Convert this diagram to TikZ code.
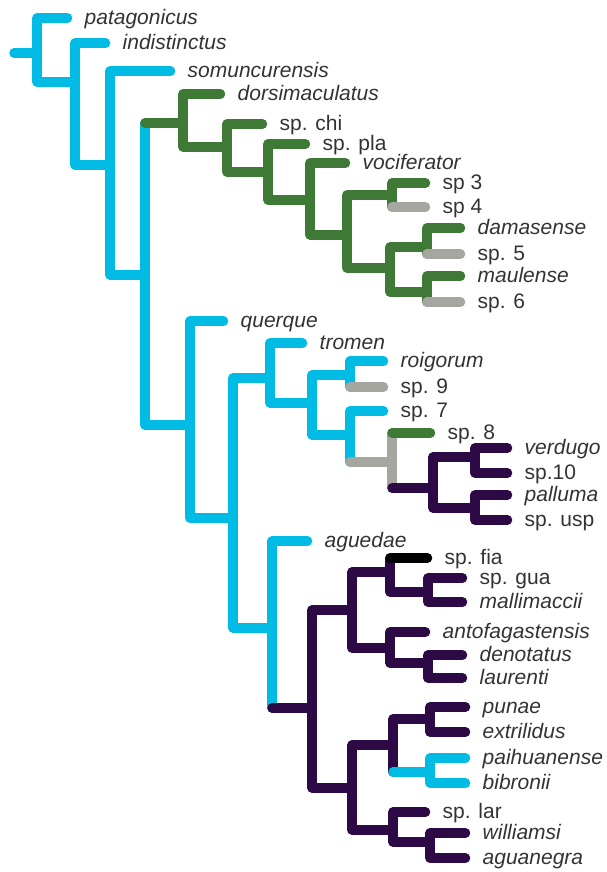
\documentclass[tikz,border=0pt]{standalone}
\usepackage{fontspec}
\setmainfont{Liberation Sans}
\definecolor{cy}{RGB}{0,188,228}
\definecolor{gr}{RGB}{62,122,54}
\definecolor{gy}{RGB}{166,166,160}
\definecolor{pu}{RGB}{45,10,70}
\definecolor{txt}{RGB}{51,51,51}
\tikzset{
  br/.style={line width=9.5pt, line cap=round, line join=round},
  cyb/.style={br, draw=cy},
  grb/.style={br, draw=gr},
  gyb/.style={br, draw=gy},
  pub/.style={br, draw=pu},
  blb/.style={br, draw=black},
  lab/.style={anchor=base west, inner sep=0pt, text=txt, font=\fontsize{21}{21}\selectfont}
}
\newcommand\lf[4]{\coordinate (#1) at (#2,#3); \node[lab] (#1-t) at (#2+17,#3+6.5) {#4};}
\begin{document}
\begin{tikzpicture}[x=1pt,y=-1pt]
\useasboundingbox (0,0) rectangle (606,872);
% leaves
\lf{pat}{67.5}{18}{\textit{patagonicus}}
\lf{ind}{105.5}{43}{\textit{indistinctus}}
\lf{som}{170.5}{71}{\textit{somuncurensis}}
\lf{dor}{220.5}{94}{\textit{dorsimaculatus}}
\lf{chi}{262.5}{124}{sp. chi}
\lf{pla}{305.5}{144}{sp. pla}
\lf{voc}{345.5}{163}{\textit{vociferator}}
\lf{s3}{425.5}{183}{sp 3}
\lf{s4}{425.5}{207}{sp 4}
\lf{dam}{460.5}{228}{\textit{damasense}}
\lf{s5}{460.5}{254}{sp. 5}
\lf{mau}{460.5}{276}{\textit{maulense}}
\lf{s6}{460.5}{302}{sp. 6}
\lf{que}{223.5}{321}{\textit{querque}}
\lf{tro}{302.5}{343}{\textit{tromen}}
\lf{roi}{383.5}{361}{\textit{roigorum}}
\lf{s9}{383.5}{387}{sp. 9}
\lf{s7}{383.5}{411}{sp. 7}
\lf{s8}{430.5}{433}{sp. 8}
\lf{ver}{507.5}{448}{\textit{verdugo}}
\lf{s10}{507.5}{473}{sp.10}
\lf{pal}{507.5}{495}{\textit{palluma}}
\lf{usp}{507.5}{520}{sp. usp}
\lf{agu}{307.5}{541}{\textit{aguedae}}
\lf{fia}{427.5}{558}{sp. fia}
\lf{gua}{462.5}{578}{sp. gua}
\lf{mal}{462.5}{602}{\textit{mallimaccii}}
\lf{ant}{425.5}{632}{\textit{antofagastensis}}
\lf{den}{462.5}{655}{\textit{denotatus}}
\lf{lau}{462.5}{678}{\textit{laurenti}}
\lf{pun}{465.5}{707}{\textit{punae}}
\lf{ext}{465.5}{732}{\textit{extrilidus}}
\lf{pai}{465.5}{758}{\textit{paihuanense}}
\lf{bib}{465.5}{783}{\textit{bibronii}}
\lf{lar}{425.5}{812}{sp. lar}
\lf{wil}{465.5}{833}{\textit{williamsi}}
\lf{agn}{465.5}{858}{\textit{aguanegra}}
% internal nodes
\coordinate (r0) at (14,53);
\coordinate (R) at (37,53);
\coordinate (N2) at (75,82);
\coordinate (N3) at (110,165);
\coordinate (N4) at (145,275);
\coordinate (G1) at (183,123);
\coordinate (G2) at (227,147);
\coordinate (G3) at (268,172);
\coordinate (G4) at (310,200);
\coordinate (G5) at (347,235);
\coordinate (G6) at (392,195);
\coordinate (G7) at (390,268);
\coordinate (G8) at (427,247);
\coordinate (G9) at (427,292);
\coordinate (Q1) at (190,425);
\coordinate (Q2) at (233,518);
\coordinate (Q3) at (270,378);
\coordinate (Q4) at (312,403);
\coordinate (Q5) at (350,375);
\coordinate (Q6) at (350,435);
\coordinate (Q7) at (392,462);
\coordinate (P1) at (433,488);
\coordinate (P2) at (475,457);
\coordinate (P3) at (475,508);
\coordinate (Q8) at (272,628);
\coordinate (A1) at (312,708);
\coordinate (A2) at (352,610);
\coordinate (A3) at (390,572);
\coordinate (A4) at (428,592);
\coordinate (A5) at (390,648);
\coordinate (A5b) at (428,663);
\coordinate (A6) at (352,788);
\coordinate (A7) at (393,745);
\coordinate (A8a) at (430,719);
\coordinate (A8b) at (430,772);
\coordinate (A9) at (393,830);
\coordinate (A10) at (430,842);
% cyan backbone
\draw[cyb] (r0) -- (R);
\draw[cyb] (R) |- (pat);
\draw[cyb] (R) |- (N2);
\draw[cyb] (N2) |- (ind);
\draw[cyb] (N2) |- (N3);
\draw[cyb] (N3) |- (som);
\draw[cyb] (N3) |- (N4);
\draw[cyb] (N4) -- (N4 |- G1);
\draw[cyb] (N4) |- (Q1);
% green clade
\draw[grb] (N4 |- G1) -- (G1);
\draw[grb] (G1) |- (dor);
\draw[grb] (G1) |- (G2);
\draw[grb] (G2) |- (chi);
\draw[grb] (G2) |- (G3);
\draw[grb] (G3) |- (pla);
\draw[grb] (G3) |- (G4);
\draw[grb] (G4) |- (voc);
\draw[grb] (G4) |- (G5);
\draw[grb] (G5) |- (G6);
\draw[grb] (G5) |- (G7);
\draw[grb] (G6) |- (s3);
\draw[grb] (G6) -- (G6 |- s4);
\draw[gyb] (G6 |- s4) -- (s4);
\draw[grb] (G7) |- (G8);
\draw[grb] (G7) |- (G9);
\draw[grb] (G8) |- (dam);
\draw[grb] (G8) -- (G8 |- s5);
\draw[gyb] (G8 |- s5) -- (s5);
\draw[grb] (G9) |- (mau);
\draw[grb] (G9) -- (G9 |- s6);
\draw[gyb] (G9 |- s6) -- (s6);
% querque clade
\draw[cyb] (Q1) |- (que);
\draw[cyb] (Q1) |- (Q2);
\draw[cyb] (Q2) |- (Q3);
\draw[cyb] (Q2) |- (Q8);
\draw[cyb] (Q3) |- (tro);
\draw[cyb] (Q3) |- (Q4);
\draw[cyb] (Q4) |- (Q5);
\draw[cyb] (Q4) |- (Q6);
\draw[cyb] (Q5) |- (roi);
\draw[cyb] (Q5) -- (Q5 |- s9);
\draw[gyb] (Q5 |- s9) -- (s9);
\draw[cyb] (Q6) |- (s7);
\draw[cyb] (Q6) -- (Q6 |- Q7);
\draw[gyb] (Q6 |- Q7) -- (Q7);
\draw[gyb] (Q7) -- (Q7 |- s8);
\draw[gyb] (Q7) -- (Q7 |- P1);
\draw[grb] (Q7 |- s8) -- (s8);
\draw[pub] (Q7 |- P1) -- (P1);
\draw[pub] (P1) |- (P2);
\draw[pub] (P1) |- (P3);
\draw[pub] (P2) |- (ver);
\draw[pub] (P2) |- (s10);
\draw[pub] (P3) |- (pal);
\draw[pub] (P3) |- (usp);
% aguedae clade
\draw[cyb] (Q8) |- (agu);
\draw[cyb] (Q8) -- (Q8 |- A1);
\draw[pub] (Q8 |- A1) -- (A1);
\draw[pub] (A1) |- (A2);
\draw[pub] (A1) |- (A6);
\draw[pub] (A2) |- (A3);
\draw[pub] (A2) |- (A5);
\draw[pub] (A3) -- (A3 |- fia);
\draw[blb] (A3 |- fia) -- (fia);
\draw[pub] (A3) |- (A4);
\draw[pub] (A4) |- (gua);
\draw[pub] (A4) |- (mal);
\draw[pub] (A5) |- (ant);
\draw[pub] (A5) |- (A5b);
\draw[pub] (A5b) |- (den);
\draw[pub] (A5b) |- (lau);
\draw[pub] (A6) |- (A7);
\draw[pub] (A6) |- (A9);
\draw[pub] (A7) |- (A8a);
\draw[pub] (A7) -- (A7 |- A8b);
\draw[cyb] (A7 |- A8b) -- (A8b);
\draw[pub] (A8a) |- (pun);
\draw[pub] (A8a) |- (ext);
\draw[cyb] (A8b) |- (pai);
\draw[cyb] (A8b) |- (bib);
\draw[pub] (A9) |- (lar);
\draw[pub] (A9) |- (A10);
\draw[pub] (A10) |- (wil);
\draw[pub] (A10) |- (agn);
\end{tikzpicture}
\end{document}
